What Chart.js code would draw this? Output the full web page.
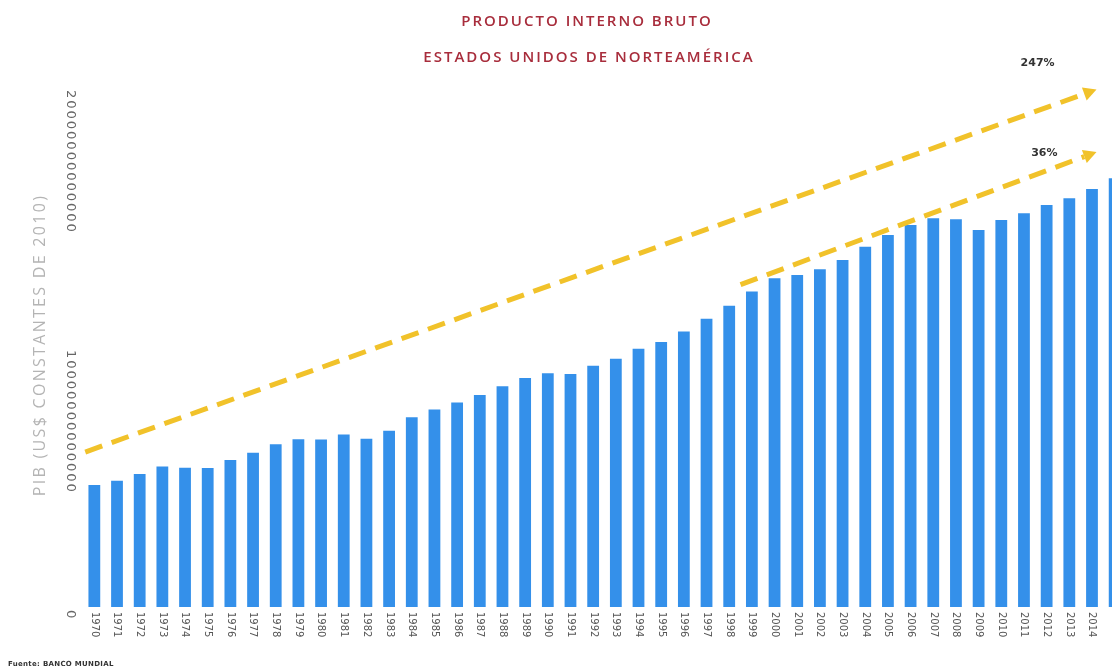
<!DOCTYPE html>
<html>
<head>
<meta charset="utf-8">
<script src="https://cdn.jsdelivr.net/npm/chart.js@4.4.1/dist/chart.umd.min.js"></script>
<style>
  html, body { margin: 0; padding: 0; background: #fff; overflow: hidden; }
  #wrap { position: relative; width: 1130px; height: 671px; }
</style>
</head>
<body>
<div id="wrap"><canvas id="grafico"></canvas></div>
<script>
// Datos (PIB en US$ constantes de 2010)
const anos = ['1970', '1971', '1972', '1973', '1974', '1975', '1976', '1977', '1978', '1979',
  '1980', '1981', '1982', '1983', '1984', '1985', '1986', '1987', '1988', '1989',
  '1990', '1991', '1992', '1993', '1994', '1995', '1996', '1997', '1998', '1999',
  '2000', '2001', '2002', '2003', '2004', '2005', '2006', '2007', '2008', '2009',
  '2010', '2011', '2012', '2013', '2014', '2015'];
const pib = [4.69e12, 4.86e12, 5.12e12, 5.40e12, 5.36e12, 5.35e12, 5.65e12, 5.93e12, 6.26e12, 6.45e12,
  6.44e12, 6.63e12, 6.47e12, 6.78e12, 7.30e12, 7.60e12, 7.87e12, 8.15e12, 8.49e12, 8.81e12,
  8.99e12, 8.96e12, 9.28e12, 9.55e12, 9.93e12, 10.19e12, 10.60e12, 11.09e12, 11.59e12, 12.13e12,
  12.64e12, 12.77e12, 12.99e12, 13.35e12, 13.86e12, 14.31e12, 14.69e12, 14.95e12, 14.91e12, 14.50e12,
  14.88e12, 15.14e12, 15.46e12, 15.72e12, 16.08e12, 16.49e12];
const ticksY = [0, 10000000000000, 20000000000000];

const titulo = ['PRODUCTO INTERNO BRUTO', 'ESTADOS UNIDOS DE NORTEAMÉRICA'];
const tituloEje = 'PIB (US$ CONSTANTES DE 2010)';
const fuente = 'Fuente: BANCO MUNDIAL';

// flechas de crecimiento, en unidades del gráfico (índice de año, valor)
const flechas = [
  { texto: '247%', desde: [-0.4, 5.96e12], hasta: [44.2, 19.9e12], etiqueta: [41.6, 20.9e12] },
  { texto: '36%', desde: [28.5, 12.4e12], hasta: [44.2, 17.5e12], etiqueta: [41.9, 17.45e12] }
];

function dibujarFlecha(ctx, x0, y0, x1, y1) {
  const ang = Math.atan2(y1 - y0, x1 - x0);
  const largo = 13;
  const xf = x1 - Math.cos(ang) * largo;
  const yf = y1 - Math.sin(ang) * largo;
  ctx.strokeStyle = '#f1c22a';
  ctx.fillStyle = '#f1c22a';
  ctx.lineWidth = 5;
  ctx.setLineDash([18, 10]);
  ctx.beginPath();
  ctx.moveTo(x0, y0);
  ctx.lineTo(xf, yf);
  ctx.stroke();
  ctx.setLineDash([]);
  ctx.beginPath();
  ctx.moveTo(x1, y1);
  ctx.lineTo(xf + Math.sin(ang) * 7, yf - Math.cos(ang) * 7);
  ctx.lineTo(xf - Math.sin(ang) * 7, yf + Math.cos(ang) * 7);
  ctx.closePath();
  ctx.fill();
}

const anotaciones = {
  id: 'anotaciones',
  afterDatasetsDraw(chart) {
    const { ctx, scales: { x, y } } = chart;
    ctx.save();
    flechas.forEach(f => {
      dibujarFlecha(ctx,
        x.getPixelForValue(f.desde[0]), y.getPixelForValue(f.desde[1]),
        x.getPixelForValue(f.hasta[0]), y.getPixelForValue(f.hasta[1]));
      ctx.fillStyle = '#333';
      ctx.font = 'bold 11px "DejaVu Sans"';
      ctx.textAlign = 'center';
      ctx.textBaseline = 'middle';
      ctx.fillText(f.texto, x.getPixelForValue(f.etiqueta[0]), y.getPixelForValue(f.etiqueta[1]));
    });
    ctx.restore();
  },
  afterDraw(chart) {
    const { ctx, scales: { x, y } } = chart;
    ctx.save();
    // título
    ctx.fillStyle = '#a82d3c';
    ctx.font = '600 15px "Open Sans"';
    ctx.letterSpacing = '2px';
    ctx.textAlign = 'center';
    ctx.textBaseline = 'middle';
    ctx.fillText(titulo[0], 587, 22);
    ctx.fillText(titulo[1], 589, 58);
    ctx.letterSpacing = '0px';

    // años, girados hacia abajo
    ctx.fillStyle = '#555';
    ctx.font = '10px "DejaVu Sans"';
    ctx.textAlign = 'left';
    anos.forEach((a, i) => {
      ctx.save();
      ctx.translate(x.getPixelForValue(i), y.bottom + 5);
      ctx.rotate(Math.PI / 2);
      ctx.fillText(a, 0, 0);
      ctx.restore();
    });

    // marcas del eje y
    ctx.fillStyle = '#666';
    ctx.font = '13px "DejaVu Sans"';
    ctx.letterSpacing = '2px';
    ticksY.forEach(v => {
      ctx.save();
      ctx.translate(70, y.getPixelForValue(v) + 3);
      ctx.rotate(Math.PI / 2);
      ctx.fillText(String(v), 0, 0);
      ctx.restore();
    });

    // título del eje
    ctx.fillStyle = '#b4b4b4';
    ctx.font = '16px "Open Sans"';
    ctx.letterSpacing = '2.3px';
    ctx.textAlign = 'center';
    ctx.save();
    ctx.translate(40, 345);
    ctx.rotate(-Math.PI / 2);
    ctx.fillText(tituloEje, 0, 0);
    ctx.restore();

    // fuente
    ctx.letterSpacing = '0.3px';
    ctx.fillStyle = '#333';
    ctx.font = 'bold 7px "DejaVu Sans"';
    ctx.textAlign = 'left';
    ctx.fillText(fuente, 8, 664);
    ctx.restore();
  }
};

new Chart(document.getElementById('grafico'), {
  type: 'bar',
  data: {
    labels: anos,
    datasets: [{
      label: 'PIB',
      data: pib,
      backgroundColor: '#3490ea',
      barPercentage: 0.52,
      categoryPercentage: 1
    }]
  },
  options: {
    responsive: true,
    maintainAspectRatio: false,
    animation: false,
    layout: { padding: { left: 83, right: 4, top: 87, bottom: 64 } },
    plugins: { legend: { display: false }, tooltip: { enabled: false } },
    scales: {
      x: { display: false },
      y: { display: false, min: 0, max: 20000000000000 }
    }
  },
  plugins: [anotaciones]
});
</script>
</body>
</html>
